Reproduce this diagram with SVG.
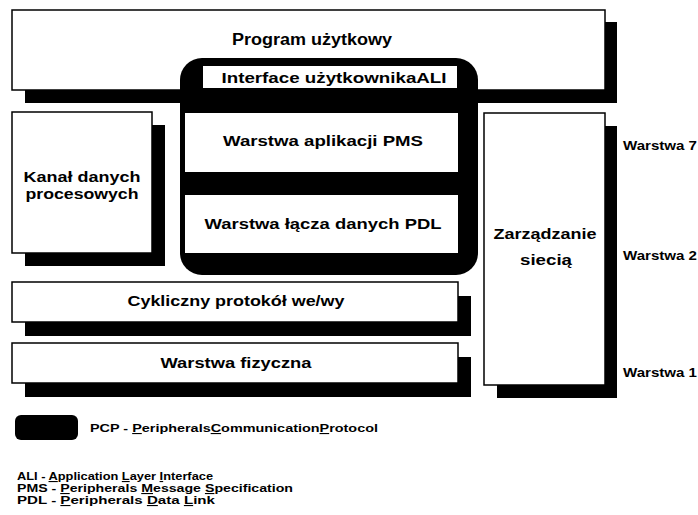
<svg xmlns="http://www.w3.org/2000/svg" width="698" height="515" viewBox="0 0 698 515">
<style>
.box{fill:#fff;stroke:#000;stroke-width:1.5}
.sh{fill:#000}
.t{font-family:"Liberation Sans",Arial,sans-serif;font-weight:bold;fill:#000;text-anchor:middle}
.w{font-family:"Liberation Sans",Arial,sans-serif;font-weight:bold;font-size:12px;fill:#000}
.l{font-family:"Liberation Sans",Arial,sans-serif;font-weight:bold;font-size:11px;fill:#000}
.u{text-decoration:underline}
</style>
<rect width="698" height="515" fill="#fff"/>
<g id="program">
<rect class="sh" x="25" y="22" width="592" height="81"/>
<rect class="box" x="12" y="10" width="593" height="80"/>
<text class="t" x="312" y="45" font-size="16" textLength="160" lengthAdjust="spacingAndGlyphs">Program użytkowy</text>
</g>
<g id="pcp">
<rect x="180" y="58" width="298" height="217" rx="22" fill="#000"/>
</g>
<g id="interface">
<rect x="203" y="66" width="254" height="22" fill="#fff"/>
<text class="t" x="334" y="83" font-size="15" textLength="225" lengthAdjust="spacingAndGlyphs">Interface użytkownikaALI</text>
</g>
<g id="pms">
<rect x="185" y="113" width="273" height="59" fill="#fff"/>
<text class="t" x="323" y="146" font-size="15" textLength="200" lengthAdjust="spacingAndGlyphs">Warstwa aplikacji  PMS</text>
</g>
<g id="pdl">
<rect x="185" y="195" width="273" height="58" fill="#fff"/>
<text class="t" x="323" y="229" font-size="15" textLength="237" lengthAdjust="spacingAndGlyphs">Warstwa łącza danych PDL</text>
</g>
<g id="kanal">
<rect class="sh" x="25" y="125" width="140" height="141"/>
<rect class="box" x="12" y="112" width="140" height="141"/>
<text class="t" x="82" y="182" font-size="15" textLength="117" lengthAdjust="spacingAndGlyphs">Kanał danych</text>
<text class="t" x="82" y="199" font-size="15" textLength="113" lengthAdjust="spacingAndGlyphs">procesowych</text>
</g>
<g id="zarzadzanie">
<rect class="sh" x="497" y="126" width="120" height="272"/>
<rect class="box" x="484" y="113" width="121" height="272"/>
<text class="t" x="545" y="239" font-size="15" textLength="103" lengthAdjust="spacingAndGlyphs">Zarządzanie</text>
<text class="t" x="546" y="265" font-size="15" textLength="52" lengthAdjust="spacingAndGlyphs">siecią</text>
</g>
<g id="cykliczny">
<rect class="sh" x="25" y="296" width="446" height="40"/>
<rect class="box" x="12" y="282" width="446" height="40"/>
<text class="t" x="236" y="306" font-size="15" textLength="217" lengthAdjust="spacingAndGlyphs">Cykliczny protokół we/wy</text>
</g>
<g id="fizyczna">
<rect class="sh" x="25" y="357" width="446" height="40"/>
<rect class="box" x="12" y="343" width="446" height="40"/>
<text class="t" x="236" y="368" font-size="15" textLength="151" lengthAdjust="spacingAndGlyphs">Warstwa fizyczna</text>
</g>
<g id="layers">
<text class="w" x="623" y="150" textLength="74" lengthAdjust="spacingAndGlyphs">Warstwa 7</text>
<text class="w" x="623" y="260" textLength="74" lengthAdjust="spacingAndGlyphs">Warstwa 2</text>
<text class="w" x="623" y="377" textLength="74" lengthAdjust="spacingAndGlyphs">Warstwa 1</text>
</g>
<g id="legend">
<rect x="15" y="415" width="63" height="25" rx="6" fill="#000"/>
<text class="l" x="90" y="432" textLength="288" lengthAdjust="spacingAndGlyphs">PCP - <tspan class="u">P</tspan>eripherals<tspan class="u">C</tspan>ommunication<tspan class="u">P</tspan>rotocol</text>
<text class="l" x="17" y="480" textLength="196" lengthAdjust="spacingAndGlyphs">ALI - <tspan class="u">A</tspan>pplication <tspan class="u">L</tspan>ayer <tspan class="u">I</tspan>nterface</text>
<text class="l" x="17" y="492" textLength="276" lengthAdjust="spacingAndGlyphs">PMS - <tspan class="u">P</tspan>eripherals <tspan class="u">M</tspan>essage <tspan class="u">S</tspan>pecification</text>
<text class="l" x="17" y="504" textLength="198" lengthAdjust="spacingAndGlyphs">PDL - <tspan class="u">P</tspan>eripherals <tspan class="u">D</tspan>ata <tspan class="u">L</tspan>ink</text>
</g>
<g id="connectors"></g>
</svg>
